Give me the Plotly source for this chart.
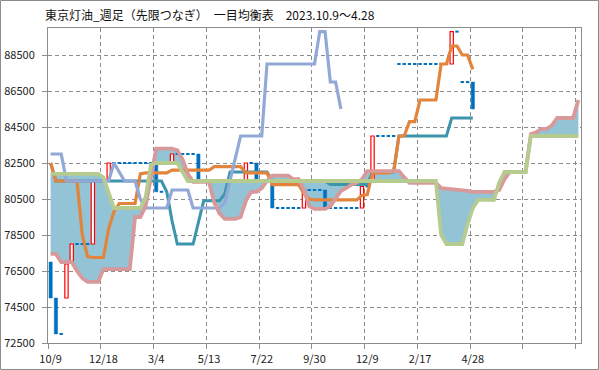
import plotly.graph_objects as go

# ---------------- data ----------------
tick_idx = [0, 10, 20, 30, 40, 50, 60, 70, 80]
tick_labels = ["10/9", "12/18", "3/4", "5/13", "7/22", "9/30", "12/9", "2/17", "4/28"]

open_ = [77000, 75000, 73000, 75000, 77000, 78000, 78000, 78000, 78000, 81500,
         81500, 81500, 82500, 82500, 82500, 82500, 82500, 82500, 82500, 82500,
         82500, 80900, 82500, 82500, 83000, 83000, 83000, 83000, 83000, 81500,
         81500, 81500, 81500, 81500, 81500, 81500, 81500, 81500, 82500, 82500,
         81500, 81500, 81500, 80000, 80000, 80000, 80000, 80000, 80000, 81000,
         81000, 81000, 81000, 80000, 80000, 80000, 80000, 80000, 80000, 80000,
         81200, 81500, 84000, 84000, 84000, 84000, 88000, 88000, 88000, 88000,
         88000, 88000, 88000, 88000, 88000, 88000, 88000, 89800, 87000, 87000,
         87000]
close = [75000, 73000, 73000, 76900, 78000, 78000, 78000, 78000, 81500, 81500,
         81500, 82500, 82500, 82500, 82500, 82500, 82500, 82500, 82500, 82500,
         80900, 80900, 82500, 83000, 83000, 83000, 83000, 83000, 81500, 81500,
         81500, 81500, 81500, 81500, 81500, 81500, 81500, 82500, 82500, 81500,
         81500, 81500, 80000, 80000, 80000, 80000, 80000, 80000, 81000, 81000,
         81000, 81000, 80000, 80000, 80000, 80000, 80000, 80000, 80000, 81200,
         81200, 84000, 84000, 84000, 84000, 84000, 88000, 88000, 88000, 88000,
         88000, 88000, 88000, 88000, 88000, 88000, 89800, 89800, 87000, 87000,
         85500]

tenkan = [82500, 81500, 81500, 81500, 81500, 81500, 78500, 77300, 77250, 77250,
          77250, 78850, 79800, 80250, 80250, 80250, 80250, 81900, 81950, 81950,
          81950, 81950, 81950, 82100, 82100, 82100, 82100, 82100, 82100, 82100,
          82100, 82300, 82300, 82300, 82300, 82300, 82300, 81950, 81950, 81950,
          81950, 81950, 81300, 81300, 81300, 81300, 81300, 81300, 80800, 80500,
          80450, 80450, 80450, 80450, 80450, 80450, 80450, 80450, 80450, 80700,
          80750, 81950, 81950, 81950, 81950, 82050, 84000, 84000, 84800, 84800,
          86000, 86000, 86000, 86000, 88000, 88000, 89000, 89000, 88500, 88500,
          87700]
kijun = [82500, 81500, 81500, 81500, 81500, 81500, 81500, 81500, 81500, 81500,
         81500, 81500, 81500, 81500, 81500, 81500, 81500, 81500, 81500, 81500,
         81500, 81500, 80900, 79300, 78000, 78000, 78000, 78000, 79200, 80400,
         80400, 80400, 80400, 80800, 82000, 82000, 82000, 82000, 82000, 82000,
         82000, 82000, 81500, 81500, 81500, 81500, 81500, 81500, 81500, 81500,
         81500, 81500, 81500, 81300, 81300, 81300, 81300, 81300, 81300, 81300,
         81300, 82000, 82000, 82000, 82000, 82000, 84000, 84000, 84000, 84000,
         84000, 84000, 84000, 84000, 84000, 84000, 85000, 85000, 85000, 85000,
         85000]
chikou = [83000, 83000, 83000, 81500, 81500, 81500, 81500, 81500, 81500, 81500,
          81500, 81500, 82500, 82000, 81500, 81500, 81500, 80500, 80000, 80000,
          80000, 80000, 80000, 81000, 81000, 81000, 81000, 80000, 80000, 80000,
          80000, 80000, 80000, 80300, 81500, 82700, 84000, 84000, 84000, 84000,
          84000, 88000, 88000, 88000, 88000, 88000, 88000, 88000, 88000, 88000,
          88000, 89800, 89800, 87000, 87000, 85500]
senkou_a = [77450, 77450, 77000, 77000, 77000, 76500, 76100, 75900, 75900, 75900,
            76600, 76600, 76600, 76600, 76600, 76600, 79500, 79500, 80100, 81700,
            83300, 83300, 83300, 83300, 83200, 82700, 81900, 81450, 81450, 81450,
            81450, 80300, 79700, 79400, 79400, 79400, 79500, 80400, 80900, 80900,
            81100, 81500, 81800, 81800, 81800, 81800, 81600, 81600, 81000, 80100,
            79950, 79950, 79950, 80100, 80550, 80950, 81100, 81300, 81400, 81600,
            82050, 82050, 82050, 82050, 82050, 82050, 82050, 81700, 81400, 81400,
            81400, 81400, 81400, 81400, 81100, 81080, 81050, 81000, 81000, 80950,
            80900, 80900, 80900, 80900, 80900, 81000, 81600, 82000, 82000, 82000,
            82000, 84100, 84200, 84400, 84400, 84600, 85000, 85000, 85000, 85000,
            86000]
senkou_b = [81900, 81900, 81900, 81900, 81900, 81900, 81900, 81900, 81900, 81900,
            81700, 80800, 80000, 80000, 80000, 80000, 80000, 80000, 80600, 82400,
            82500, 82500, 82500, 82500, 82500, 82000, 81500, 81500, 81500, 81500,
            81500, 81500, 81500, 81500, 81500, 81500, 81500, 81500, 81500, 81500,
            81500, 81500, 81500, 81500, 81500, 81500, 81500, 81500, 81500, 81500,
            81500, 81500, 81500, 81500, 81500, 81500, 81500, 81500, 81500, 81500,
            81500, 81500, 81500, 81500, 81500, 81500, 81500, 81500, 81500, 81500,
            81500, 81500, 81500, 81500, 78500, 78000, 78000, 78000, 78000, 79100,
            80000, 80450, 80450, 80450, 80450, 81400, 82000, 82000, 82000, 82000,
            82000, 84000, 84000, 84000, 84000, 84000, 84000, 84000, 84000, 84000,
            84000]

# ---------------- styling ----------------
FONT = "Noto Sans CJK JP"
GRID = "#8c8c8c"
BLUE = "#0070C0"
RED = "#FF0000"
C_TENKAN = "#E2843C"
C_KIJUN = "#3C94AD"
C_CHIKOU = "#92A9D8"
C_A = "#D8999A"
C_B = "#B6CB90"
C_CLOUD = "#92C4D6"

W, H = 599, 370
ML, MR, MT, MB = 48, 18, 28, 27
PW, PH = W - ML - MR, H - MT - MB
N_CAT = len(senkou_a)
XR = [-0.5, N_CAT - 0.5]
YR = [72500, 90000]

fig = go.Figure()

# cloud on the base axes (drawn beneath candles and lines)
xs = list(range(N_CAT))
fig.add_trace(go.Scatter(x=xs, y=senkou_b, mode="lines", line=dict(width=0),
                         hoverinfo="skip", showlegend=False))
fig.add_trace(go.Scatter(x=xs, y=senkou_a, mode="lines", line=dict(width=0),
                         fill="tonexty", fillcolor=C_CLOUD,
                         hoverinfo="skip", showlegend=False))

# candles on overlay axes
up_x, up_b, up_h = [], [], []
dn_x, dn_b, dn_h = [], [], []
fl_x, fl_y = [], []
for i, (o, c) in enumerate(zip(open_, close)):
    if c > o:
        up_x.append(i); up_b.append(o); up_h.append(c - o)
    elif c < o:
        dn_x.append(i); dn_b.append(c); dn_h.append(o - c)
    else:
        fl_x += [i - 0.32, i + 0.32, None]
        fl_y += [o, o, None]

fig.add_trace(go.Bar(x=dn_x, y=dn_h, base=dn_b, width=0.62, xaxis="x2", yaxis="y2",
                     marker=dict(color=BLUE, line=dict(color=BLUE, width=0.5)),
                     showlegend=False))
fig.add_trace(go.Bar(x=up_x, y=up_h, base=up_b, width=0.62, xaxis="x2", yaxis="y2",
                     marker=dict(color="white", line=dict(color=RED, width=1.2)),
                     showlegend=False))
fig.add_trace(go.Scatter(x=fl_x, y=fl_y, mode="lines", xaxis="x2", yaxis="y2",
                         line=dict(color=BLUE, width=2), hoverinfo="skip",
                         showlegend=False))

# ichimoku lines
def add_line(vals, color, width):
    fig.add_trace(go.Scatter(x=list(range(len(vals))), y=vals, mode="lines",
                             xaxis="x2", yaxis="y2",
                             line=dict(color=color, width=width),
                             showlegend=False))

add_line(kijun, C_KIJUN, 3)
add_line(tenkan, C_TENKAN, 3.2)
add_line(chikou, C_CHIKOU, 3.2)
add_line(senkou_a, C_A, 3.8)
add_line(senkou_b, C_B, 3.8)

grid_x = [-0.5] + [k + 9.5 for k in range(0, N_CAT - 1, 10)]

fig.update_layout(
    width=W, height=H,
    margin=dict(l=ML, r=MR, t=MT, b=MB, autoexpand=False),
    paper_bgcolor="white", plot_bgcolor="white",
    font=dict(family=FONT, size=11, color="#222222"),
    barmode="overlay",
    hovermode=False,
    xaxis=dict(range=XR, tickmode="array", tickvals=tick_idx, ticktext=tick_labels,
               ticks="", showgrid=False, zeroline=False, automargin=False,
               showline=True, mirror=True, linecolor=GRID, linewidth=1,
               ticklabelstandoff=6,
               tickfont=dict(family=FONT, size=11, color="#222222"),
               minor=dict(tickmode="array", tickvals=grid_x, ticks="outside",
                          ticklen=5, tickcolor=GRID, showgrid=True,
                          gridcolor=GRID, gridwidth=1, griddash="4px,3px")),
    yaxis=dict(range=YR, tick0=72500, dtick=2000, tickformat="d",
               ticks="outside", ticklen=5, automargin=False,
               tickcolor=GRID, showgrid=True, gridcolor=GRID, gridwidth=1,
               griddash="4px,3px", zeroline=False,
               showline=True, mirror=True, linecolor=GRID, linewidth=1,
               ticklabelstandoff=5,
               tickfont=dict(family=FONT, size=11, color="#222222")),
    xaxis2=dict(range=XR, overlaying="x", visible=False),
    yaxis2=dict(range=YR, overlaying="y", visible=False),
    annotations=[dict(text="東京灯油_週足（先限つなぎ）　一目均衡表　2023.10.9～4.28",
                      xref="paper", yref="paper",
                      x=(43 - ML) / PW, y=1 + (MT - 15) / PH,
                      xanchor="left", yanchor="middle", showarrow=False,
                      font=dict(family=FONT, size=12, color="#111111"))],
    shapes=[dict(type="rect", xref="paper", yref="paper",
                 x0=(0.5 - ML) / PW, x1=(W - 0.5 - ML) / PW,
                 y0=-(MB - 0.5) / PH, y1=1 + (MT - 0.5) / PH,
                 line=dict(color=GRID, width=1), layer="below")],
)

fig.write_html("out.html", config={"displayModeBar": False, "staticPlot": True})

# remove the default page margin so the figure sits at the window's top-left corner
with open("out.html", encoding="utf-8") as f:
    page = f.read()
page = page.replace("<head>", "<head><style>html,body{margin:0;padding:0;overflow:hidden}</style>", 1)
with open("out.html", "w", encoding="utf-8") as f:
    f.write(page)
